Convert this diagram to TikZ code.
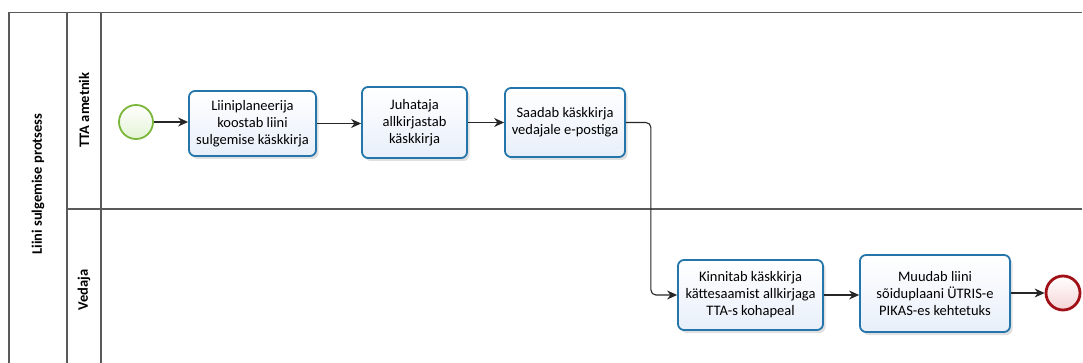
\documentclass[tikz,border=0pt]{standalone}
\usepackage{fontspec}
\setmainfont{Carlito}
\usetikzlibrary{arrows.meta,shadows,positioning}
\definecolor{lanegray}{RGB}{90,90,90}
\definecolor{taskblue}{RGB}{36,118,170}
\definecolor{taskfill}{RGB}{232,239,250}
\definecolor{startgreen}{RGB}{122,182,56}
\definecolor{startfill}{RGB}{228,244,214}
\definecolor{endred}{RGB}{160,16,22}
\definecolor{endfill}{RGB}{246,212,214}
\tikzset{
  laneline/.style={draw=lanegray, line width=1.2pt},
  lanelabel/.style={rotate=90, font=\bfseries\fontsize{14.5}{16}\selectfont, inner sep=0pt},
  taskbox/.style={draw=taskblue, line width=1.8pt, rounded corners=6pt,
    top color=white, bottom color=taskfill, align=center,
    font=\fontsize{14.5}{17}\selectfont, inner sep=2pt,
    drop shadow={shadow xshift=2.5pt, shadow yshift=-3pt, opacity=0.12, fill=black}},
  startev/.style={circle, draw=startgreen, line width=1.8pt, minimum size=34pt,
    inner sep=0pt, top color=white, bottom color=startfill},
  endev/.style={circle, draw=endred, line width=2.8pt, minimum size=34pt,
    inner sep=0pt, top color=white, bottom color=endfill},
  flow/.style={draw=black!85, line width=1.1pt, rounded corners=5pt,
    -{Stealth[length=10pt,width=9pt]}}
}
\begin{document}
\begin{tikzpicture}[x=1pt,y=-1pt]
\useasboundingbox (0,0) rectangle (1083,363);
% pool and lane frame
\draw[laneline] (1082,12.5) -- (9,12.5) -- (9,363);
\draw[laneline] (67,12.5) -- (67,363);
\draw[laneline] (101,12.5) -- (101,363);
\draw[laneline] (67,209) -- (1082,209);
% pool and lane labels
\node[lanelabel] (pool) at (38,184) {Liini sulgemise protsess};
\node[lanelabel] (laneA) at (84,110) {TTA ametnik};
\node[lanelabel] (laneB) at (84,290) {Vedaja};
% events and tasks
\node[startev] (start) at (136,122) {};
\node[taskbox, minimum width=127pt, minimum height=65pt] (t1) at (252.5,123.5)
  {Liiniplaneerija\\koostab liini\\sulgemise käskkirja};
\node[taskbox, minimum width=105pt, minimum height=71pt] (t2) at (414.5,122.5)
  {Juhataja\\allkirjastab\\käskkirja};
\node[taskbox, minimum width=120pt, minimum height=69pt] (t3) at (565,122.5)
  {Saadab käskkirja\\vedajale e-postiga};
\node[taskbox, minimum width=145pt, minimum height=70pt] (t4) at (750.5,295)
  {Kinnitab käskkirja\\kättesaamist allkirjaga\\TTA-s kohapeal};
\node[taskbox, minimum width=150pt, minimum height=77pt] (t5) at (935,293.5)
  {Muudab liini\\sõiduplaani ÜTRIS-e\\PIKAS-es kehtetuks};
\node[endev] (finish) at (1063,293) {};
% sequence flows
\draw[flow] (start) -- (t1.west |- start);
\draw[flow] (t1.east) -- (t2.west |- t1.east);
\draw[flow] (t2.east |- t3.west) -- (t3.west);
\draw[flow] (t3.east) -- ++(25,0) |- (t4.west);
\draw[flow] (t4.east) -- (t5.west |- t4.east);
\draw[flow] (t5.east |- finish) -- (finish);
\end{tikzpicture}
\end{document}
